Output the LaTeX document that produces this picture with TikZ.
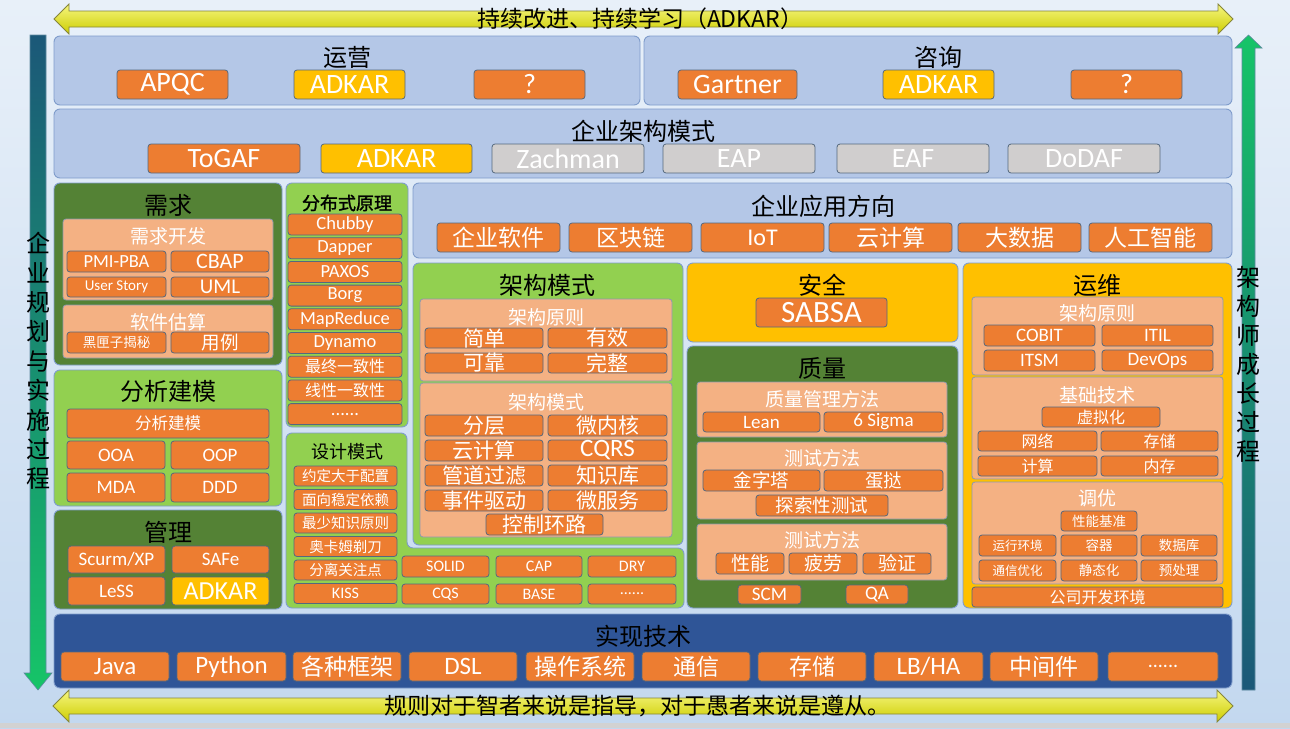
\documentclass[tikz,border=0pt]{standalone}
\usepackage{fontspec}
\setmainfont{Noto Sans CJK SC}
\newfontfamily\lat{Carlito}
\newfontfamily\cjkbold[FakeBold=1.5]{Noto Sans CJK SC}
\definecolor{lblue}{HTML}{B4C7E7}
\definecolor{pbd}{HTML}{7F9CCB}
\definecolor{dgreen}{HTML}{548235}
\definecolor{lgreen}{HTML}{92D050}
\definecolor{gold}{HTML}{FFC000}
\definecolor{nblue}{HTML}{2F5597}
\definecolor{salmon}{HTML}{F4B183}
\definecolor{sbd}{HTML}{8C9AAE}
\definecolor{orng}{HTML}{ED7D31}
\definecolor{obd}{HTML}{55687E}
\definecolor{gry}{HTML}{D0CECE}
\definecolor{bgt}{HTML}{E8F0F9}
\definecolor{bgb}{HTML}{C3D8EF}
\definecolor{ytop}{HTML}{F6F680}
\definecolor{ybot}{HTML}{CDCD00}
\definecolor{ybd}{HTML}{86863A}
\definecolor{tdark}{HTML}{1B5878}
\definecolor{tgreen}{HTML}{16C468}
\tikzset{
  sz/.style={font=\fontsize{#1}{#1}\selectfont},
  pn/.style={rounded corners=6pt, draw=pbd, line width=0.9pt, inner sep=0pt, outer sep=0pt},
  ob/.style={rounded corners=3pt, fill=orng, draw=obd, line width=0.8pt, text=white, inner sep=0pt, outer sep=0pt},
  yb/.style={ob, fill=gold},
  gb/.style={ob, fill=gry},
  sal/.style={rounded corners=3pt, fill=salmon, draw=sbd, line width=0.8pt, inner sep=0pt, outer sep=0pt},
  ttl/.style={inner sep=0pt, text=black},
  wl/.style={inner sep=0pt, text=white, sz=19},
  harrow/.style={top color=ytop, bottom color=ybot, draw=ybd, line width=0.8pt},
}
\newcommand\bx[7]{\node[#1,minimum width={(#5)-(#3)},minimum height={(#6)-(#4)}] (#2) at ({((#3)+(#5))/2},{((#4)+(#6))/2}) {#7};}
\newcommand\sixdots{\lat ......}
\begin{document}
\begin{tikzpicture}[x=1pt,y=-1pt]
\useasboundingbox (0,0) rectangle (1290,728);
\shade[top color=bgt, bottom color=bgb] (0,0) rectangle (1290,728);
\fill[gray!35] (0,723) rectangle (1290,728);
% horizontal arrows
\draw[harrow] (54,19) -- (69,4) -- (69,11) -- (1218,11) -- (1218,4) -- (1233,19) -- (1218,34) -- (1218,27) -- (69,27) -- (69,34) -- cycle;
\draw[harrow] (53,706) -- (69,690) -- (69,698) -- (1217,698) -- (1217,690) -- (1233,706) -- (1217,722) -- (1217,714) -- (69,714) -- (69,722) -- cycle;
\node[ttl,sz=23] (toptxt) at (640,19) {持续改进、持续学习（ADKAR）};
\node[ttl,sz=23] (bottxt) at (637,706) {规则对于智者来说是指导，对于愚者来说是遵从。};
% vertical arrows
\draw[top color=tdark, bottom color=tgreen, draw=tdark!70, line width=0.6pt] (30,35) -- (46,35) -- (46,673) -- (52,673) -- (38,690) -- (24,673) -- (30,673) -- cycle;
\draw[top color=tgreen, bottom color=tdark, draw=tdark!70, line width=0.6pt] (1248.5,35) -- (1262,48) -- (1255,48) -- (1255,690) -- (1242,690) -- (1242,48) -- (1235,48) -- cycle;
\node[ttl,align=center,font=\fontsize{24}{29.4}\selectfont] (ltxt) at (38,361) {企\\业\\规\\划\\与\\实\\施\\过\\程};
\node[ttl,align=center,font=\fontsize{24}{29}\selectfont] (rtxt) at (1248,364) {架\\构\\师\\成\\长\\过\\程};
% 运营
\bx{pn,fill=lblue}{pyy}{54}{36}{640}{105}{}
\node[ttl,sz=24] (tyy) at (347,57) {运营};
\bx{ob,sz=28}{apqc}{117}{70}{228}{99}{\lat APQC}
\bx{yb,sz=28}{adk1}{294}{70}{405}{99}{\lat ADKAR}
\bx{ob,sz=28}{qa1}{474}{70}{585}{99}{\lat ?}
% 咨询
\bx{pn,fill=lblue}{pzx}{644}{36}{1232}{105}{}
\node[ttl,sz=24] (tzx) at (938,57) {咨询};
\bx{ob,sz=28}{gart}{678}{70}{797}{99}{\lat Gartner}
\bx{yb,sz=28}{adk2}{883}{70}{994}{99}{\lat ADKAR}
\bx{ob,sz=28}{qa2}{1071}{70}{1182}{99}{\lat ?}
% 企业架构模式
\bx{pn,fill=lblue}{pea}{54}{109}{1232}{178}{}
\node[ttl,sz=24] (tea) at (643,131) {企业架构模式};
\bx{ob,sz=28}{togaf}{148}{144}{300}{173}{\lat ToGAF}
\bx{yb,sz=28}{adk3}{321}{144}{472}{173}{\lat ADKAR}
\bx{gb,sz=28}{zach}{492}{144}{644}{173}{\lat Zachman}
\bx{gb,sz=28}{eap}{663}{144}{815}{173}{\lat EAP}
\bx{gb,sz=28}{eaf}{837}{144}{989}{173}{\lat EAF}
\bx{gb,sz=28}{dodaf}{1008}{144}{1160}{173}{\lat DoDAF}
% 需求
\bx{pn,fill=dgreen}{pxq}{54}{183}{282}{365}{}
\node[ttl,sz=24] (txq) at (168,205) {需求};
\bx{sal}{sxq1}{63}{219}{273}{300}{}
\node[wl] (lxq1) at (168,236) {需求开发};
\bx{ob,sz=18.5}{pmi}{67}{251}{166}{272}{\lat PMI-PBA}
\bx{ob,sz=22}{cbap}{171}{251}{269}{272}{\lat CBAP}
\bx{ob,sz=15}{ustory}{67}{277}{166}{297}{\lat User Story}
\bx{ob,sz=21}{uml}{171}{277}{269}{297}{\lat UML}
\bx{sal}{sxq2}{63}{305}{273}{358}{}
\node[wl] (lxq2) at (168,322) {软件估算};
\bx{ob,sz=13.5}{hxz}{67}{332}{166}{353}{黑匣子揭秘}
\bx{ob,sz=18.5}{yl}{171}{332}{269}{353}{用例}
% 分布式原理
\bx{pn,fill=lgreen}{pfb}{286}{183}{408}{427}{}
\node[ttl,font=\cjkbold\fontsize{18}{18}\selectfont] (tfb) at (347,203) {分布式原理};
\bx{ob,sz=18.5}{fb0}{288}{214}{402}{235}{\lat Chubby}
\bx{ob,sz=18.5}{fb1}{288}{237.7}{402}{258.7}{\lat Dapper}
\bx{ob,sz=18.5}{fb2}{288}{261.4}{402}{282.4}{\lat PAXOS}
\bx{ob,sz=18.5}{fb3}{288}{285.1}{402}{306.1}{\lat Borg}
\bx{ob,sz=18.5}{fb4}{288}{308.8}{402}{329.8}{\lat MapReduce}
\bx{ob,sz=18.5}{fb5}{288}{332.5}{402}{353.5}{\lat Dynamo}
\bx{ob,sz=16}{fb6}{288}{356.2}{402}{377.2}{最终一致性}
\bx{ob,sz=16}{fb7}{288}{379.9}{402}{400.9}{线性一致性}
\bx{ob,sz=18.5}{fb8}{288}{403.6}{402}{424.6}{\sixdots}
% 分析建模
\bx{pn,fill=lgreen}{pfx}{54}{370}{282}{506}{}
\node[ttl,sz=24] (tfx) at (168,391) {分析建模};
\bx{ob,sz=16.5}{fxjm}{67}{409}{269}{438}{分析建模}
\bx{ob,sz=19}{ooa}{67}{441}{165}{469}{\lat OOA}
\bx{ob,sz=19}{oop}{171}{441}{269}{469}{\lat OOP}
\bx{ob,sz=19}{mda}{67}{473}{165}{502}{\lat MDA}
\bx{ob,sz=19}{ddd}{171}{473}{269}{502}{\lat DDD}
% 管理
\bx{pn,fill=dgreen}{pgl}{54}{510}{282}{609}{}
\node[ttl,sz=24] (tgl) at (168,532) {管理};
\bx{ob,sz=19}{scrum}{68}{546}{165}{573}{\lat Scurm/XP}
\bx{ob,sz=19}{safe}{172}{546}{269}{573}{\lat SAFe}
\bx{ob,sz=19}{less}{68}{577}{165}{605}{\lat LeSS}
\bx{yb,sz=26}{adk4}{172}{577}{269}{605}{\lat ADKAR}
% 设计模式 (L-shape)
\draw[pn,fill=lgreen] (286,433) -- (407,433) -- (407,548) -- (684,548) -- (684,608) -- (286,608) -- cycle;
\node[ttl,sz=18] (tsj) at (347,452) {设计模式};
\bx{ob,sz=14.5}{sj0}{294}{466}{397}{486}{约定大于配置}
\bx{ob,sz=14.5}{sj1}{294}{489.5}{397}{509.5}{面向稳定依赖}
\bx{ob,sz=14.5}{sj2}{294}{513}{397}{533}{最少知识原则}
\bx{ob,sz=14.5}{sj3}{294}{536.5}{397}{556.5}{奥卡姆剃刀}
\bx{ob,sz=14.5}{sj4}{294}{560}{397}{580}{分离关注点}
\bx{ob,sz=16}{sj5}{294}{583.5}{397}{603.5}{\lat KISS}
\bx{ob,sz=16}{solid}{402}{556}{489}{577}{\lat SOLID}
\bx{ob,sz=16}{cap}{496}{556}{582}{577}{\lat CAP}
\bx{ob,sz=16}{dry}{588}{556}{676}{577}{\lat DRY}
\bx{ob,sz=16}{cqs}{402}{584}{489}{604}{\lat CQS}
\bx{ob,sz=16}{base}{496}{584}{582}{604}{\lat BASE}
\bx{ob,sz=16}{dots2}{588}{584}{676}{604}{\sixdots}
% 架构模式
\bx{pn,fill=lgreen}{pjg}{413}{263}{683}{545}{}
\node[ttl,sz=24] (tjg) at (547,285) {架构模式};
\bx{sal}{sjg1}{420}{299}{672}{381}{}
\node[wl] (ljg1) at (546,317) {架构原则};
\bx{ob,sz=21}{jd}{425}{328}{543}{348}{简单}
\bx{ob,sz=21}{yx}{548}{328}{667}{348}{有效}
\bx{ob,sz=21}{kk}{425}{353}{543}{373}{可靠}
\bx{ob,sz=21}{wz}{548}{353}{667}{373}{完整}
\bx{sal}{sjg2}{420}{383}{672}{537}{}
\node[wl] (ljg2) at (546,402) {架构模式};
\bx{ob,sz=21}{fc}{425}{415}{543}{436}{分层}
\bx{ob,sz=21}{wnh}{548}{415}{667}{436}{微内核}
\bx{ob,sz=21}{yjs1}{425}{440}{543}{461}{云计算}
\bx{ob,sz=25}{cqrs}{548}{440}{667}{461}{\lat CQRS}
\bx{ob,sz=21}{gdgl}{425}{465}{543}{486}{管道过滤}
\bx{ob,sz=21}{zsk}{548}{465}{667}{486}{知识库}
\bx{ob,sz=21}{sjqd}{425}{490}{543}{511}{事件驱动}
\bx{ob,sz=21}{wfw}{548}{490}{667}{511}{微服务}
\bx{ob,sz=21}{kzhl}{486}{514}{603}{535}{控制环路}
% 企业应用方向
\bx{pn,fill=lblue}{pyyfx}{413}{183}{1232}{258}{}
\node[ttl,sz=24] (tyyfx) at (823,206) {企业应用方向};
\bx{ob,sz=23}{qyrj}{437}{223}{560}{252}{企业软件}
\bx{ob,sz=23}{qkl}{569}{223}{692}{252}{区块链}
\bx{ob,sz=24}{iot}{701}{223}{824}{252}{\lat IoT}
\bx{ob,sz=23}{yjs2}{829}{223}{952}{252}{云计算}
\bx{ob,sz=23}{dsj}{958}{223}{1081}{252}{大数据}
\bx{ob,sz=23}{rgzn}{1089}{223}{1212}{252}{人工智能}
% 安全
\bx{pn,fill=gold}{paq}{687}{263}{958}{342}{}
\node[ttl,sz=24] (taq) at (822,285) {安全};
\bx{ob,sz=31}{sabsa}{756}{298}{887}{327}{\lat SABSA}
% 质量
\bx{pn,fill=dgreen}{pzl}{687}{346}{958}{608}{}
\node[ttl,sz=24] (tzl) at (822,368) {质量};
\bx{sal}{szl1}{697}{382}{947}{437}{}
\node[wl] (lzl1) at (822,399) {质量管理方法};
\bx{ob,sz=19}{lean}{703}{412}{820}{432}{\lat Lean}
\bx{ob,sz=19}{sigma}{824}{412}{943}{432}{\lat 6 Sigma}
\bx{sal}{szl2}{697}{442}{947}{519}{}
\node[wl] (lzl2) at (822,458) {测试方法};
\bx{ob,sz=18.5}{jzt}{703}{470}{820}{491}{金字塔}
\bx{ob,sz=18.5}{dt}{824}{470}{943}{491}{蛋挞}
\bx{ob,sz=18.5}{tsx}{756}{495}{888}{516}{探索性测试}
\bx{sal}{szl3}{697}{524}{947}{580}{}
\node[wl] (lzl3) at (822,540) {测试方法};
\bx{ob,sz=19}{xn}{716}{553}{784}{574}{性能}
\bx{ob,sz=19}{pl}{789}{553}{857}{574}{疲劳}
\bx{ob,sz=19}{yz}{863}{553}{931}{574}{验证}
\bx{ob,sz=19}{scm}{738}{585}{801}{604}{\lat SCM}
\bx{ob,sz=19}{qa}{846}{585}{908}{604}{\lat QA}
% 运维
\bx{pn,fill=gold}{pyw}{963}{263}{1232}{608}{}
\node[ttl,sz=24] (tyw) at (1097,285) {运维};
\bx{sal}{syw1}{972}{297}{1223}{375}{}
\node[wl] (lyw1) at (1097,313) {架构原则};
\bx{ob,sz=19}{cobit}{984}{325}{1095}{346}{\lat COBIT}
\bx{ob,sz=19}{itil}{1102}{325}{1213}{346}{\lat ITIL}
\bx{ob,sz=19}{itsm}{984}{350}{1095}{371}{\lat ITSM}
\bx{ob,sz=19}{devops}{1102}{350}{1213}{371}{\lat DevOps}
\bx{sal}{syw2}{972}{377}{1223}{479}{}
\node[wl] (lyw2) at (1097,395) {基础技术};
\bx{ob,sz=16}{xnh}{1042}{407}{1160}{427}{虚拟化}
\bx{ob,sz=16}{wl}{978}{431}{1097}{451}{网络}
\bx{ob,sz=16}{cc1}{1101}{431}{1218}{451}{存储}
\bx{ob,sz=16}{js}{978}{456}{1097}{476}{计算}
\bx{ob,sz=16}{nc}{1101}{456}{1218}{476}{内存}
\bx{sal}{syw3}{972}{482}{1223}{584}{}
\node[wl] (lyw3) at (1097,498) {调优};
\bx{ob,sz=13.5}{xnjz}{1061}{511}{1137}{531}{性能基准}
\bx{ob,sz=12.5}{yxhj}{979}{535}{1056}{556}{运行环境}
\bx{ob,sz=13.5}{rq}{1061}{535}{1137}{556}{容器}
\bx{ob,sz=13.5}{sjk}{1141}{535}{1217}{556}{数据库}
\bx{ob,sz=12.5}{txyh}{979}{560}{1056}{581}{通信优化}
\bx{ob,sz=13.5}{jth}{1061}{560}{1137}{581}{静态化}
\bx{ob,sz=13.5}{ycl}{1141}{560}{1217}{581}{预处理}
\bx{ob,sz=16}{gskf}{972}{587}{1223}{607}{公司开发环境}
% 实现技术
\bx{pn,fill=nblue}{psx}{54}{614}{1232}{688}{}
\node[ttl,sz=24] (tsx) at (643,636) {实现技术};
\bx{ob,sz=25}{java}{61}{652}{169}{681}{\lat Java}
\bx{ob,sz=25}{python}{177}{652}{286}{681}{\lat Python}
\bx{ob,sz=23}{gzkj}{293}{652}{401}{681}{各种框架}
\bx{ob,sz=25}{dsl}{409}{652}{517}{681}{\lat DSL}
\bx{ob,sz=23}{czxt}{526}{652}{634}{681}{操作系统}
\bx{ob,sz=23}{tx}{642}{652}{750}{681}{通信}
\bx{ob,sz=23}{cc2}{758}{652}{866}{681}{存储}
\bx{ob,sz=25}{lbha}{874}{652}{983}{681}{\lat LB/HA}
\bx{ob,sz=23}{zjj}{990}{652}{1098}{681}{中间件}
\bx{ob,sz=20}{dots3}{1108}{652}{1218}{681}{\sixdots}
\end{tikzpicture}
\end{document}
